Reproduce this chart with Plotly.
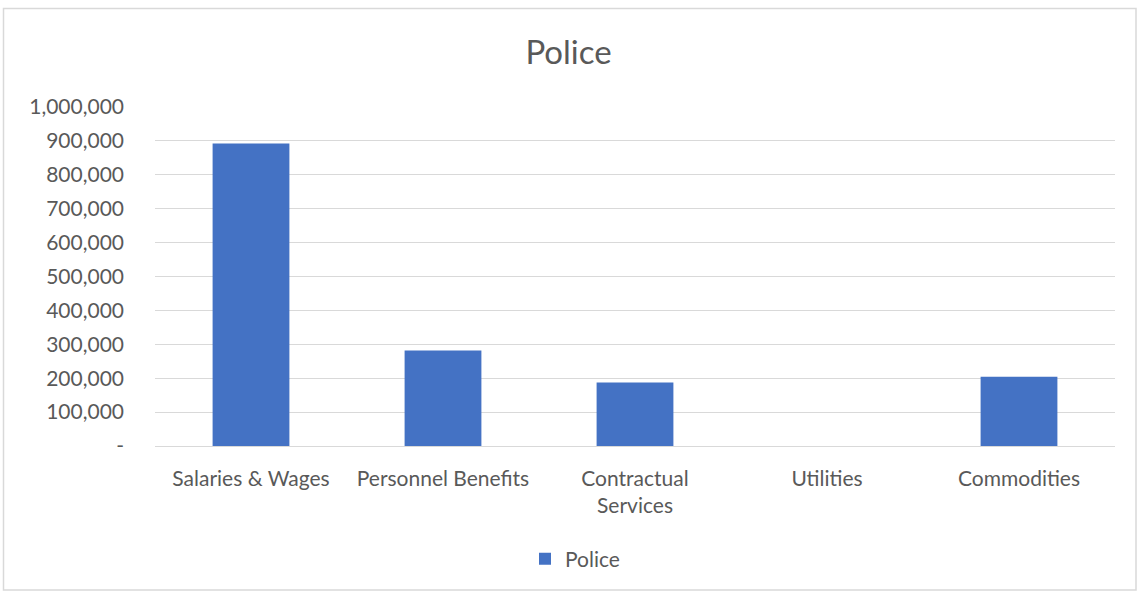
import plotly.graph_objects as go

# Police budget by expense category
categories = ["Salaries & Wages", "Personnel Benefits", "Contractual<br>Services", "Utilities", "Commodities"]
police = [892000, 282000, 187000, 0, 204000]

tick_vals = [0, 100000, 200000, 300000, 400000, 500000, 600000, 700000, 800000, 900000, 1000000]
tick_text = ["-", "100,000", "200,000", "300,000", "400,000", "500,000",
             "600,000", "700,000", "800,000", "900,000", "1,000,000"]

W, H = 1137, 592
ML, MR, MT, MB = 155, 22, 107, 146

fig = go.Figure()
fig.add_trace(go.Bar(
    x=categories, y=police, name="Police",
    marker=dict(color="#4472C4", line=dict(width=0)),
))

pw = W - ML - MR
ph = H - MT - MB


def px_x(v):
    return (v - ML) / pw


def px_y(v):
    return (H - MB - v) / ph


fig.update_layout(
    width=W, height=H,
    margin=dict(l=ML, r=MR, t=MT, b=MB),
    paper_bgcolor="white", plot_bgcolor="white",
    font=dict(family="Lato, 'Open Sans', sans-serif", size=21, color="#595959"),
    title=dict(text="Police", x=0.5, xanchor="center", y=1 - 52 / H, yanchor="middle",
               font=dict(size=33, color="#595959")),
    bargap=0.6,
    showlegend=True,
    legend=dict(orientation="h", x=px_x(575), xanchor="center", y=px_y(559), yanchor="middle",
                font=dict(size=21, color="#595959"), itemwidth=30),
    xaxis=dict(showgrid=False, showline=False, ticks="", tickfont=dict(size=21),
               ticklabelstandoff=18),
    yaxis=dict(range=[0, 1000000], tickvals=tick_vals, ticktext=tick_text,
               showgrid=True, gridcolor="#D9D9D9", gridwidth=1,
               zeroline=True, zerolinecolor="#D9D9D9", zerolinewidth=1,
               showline=False, ticks="", ticklabelstandoff=30, tickfont=dict(size=21)),
    shapes=[dict(type="rect", xref="paper", yref="paper",
                 x0=px_x(3.5), x1=px_x(1136), y0=px_y(590), y1=px_y(8.5),
                 line=dict(color="#D9D9D9", width=1.5), fillcolor="rgba(0,0,0,0)", layer="below")],
)

fig.write_html("out.html")
